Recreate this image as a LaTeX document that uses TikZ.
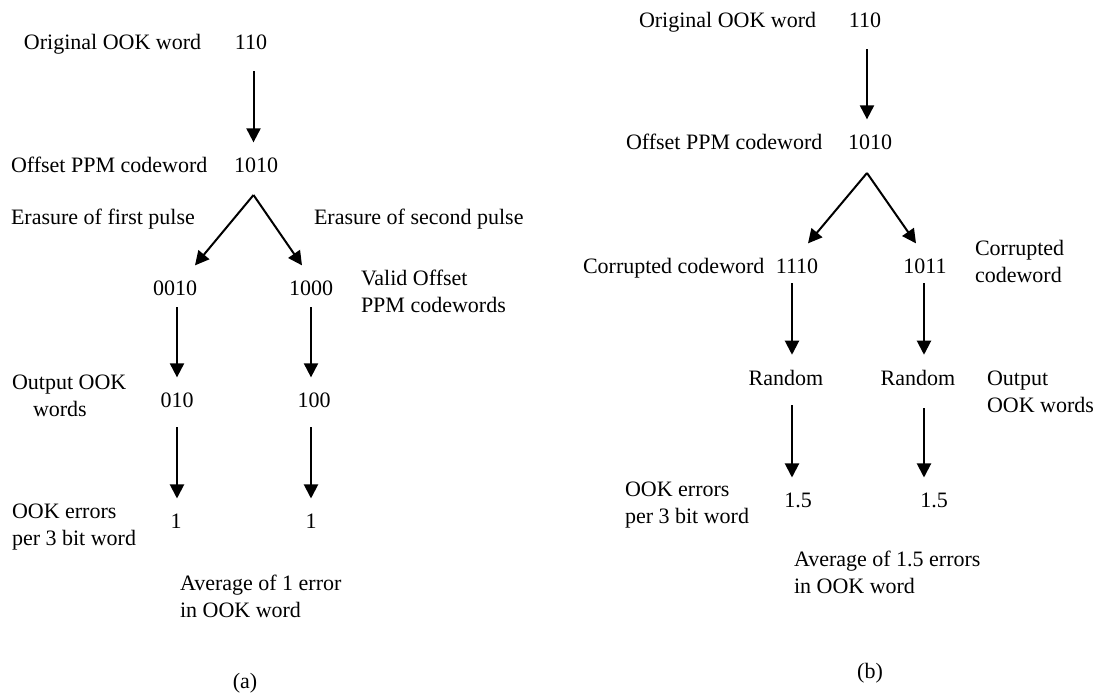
\documentclass[tikz,border=0pt]{standalone}
\usepackage{fontspec}
\setmainfont{Liberation Serif}
\usetikzlibrary{arrows.meta}
\begin{document}
\begin{tikzpicture}[x=0.5pt, y=-0.5pt,
  lbl/.style={inner sep=0pt, outer sep=0pt, font=\fontsize{11}{13.5}\selectfont},
  arr/.style={line width=1pt, -{Triangle[length=7pt,width=7pt]}}]
\useasboundingbox (0,0) rectangle (1104,697);

% ---------- (a) erasure of a pulse ----------
\coordinate (cA0) at (253.5,0);
\coordinate (cA1) at (177,0);
\coordinate (cA2) at (311,0);
\coordinate (splitA) at (253.5,195);

\node[lbl, anchor=base west] (origA) at (24,49) {Original OOK word};
\node[lbl, anchor=base] (a110) at (251,49) {110};
\node[lbl, anchor=base west] (offA) at (11,172) {Offset PPM codeword};
\node[lbl, anchor=base] (a1010) at (256,172) {1010};
\node[lbl, anchor=base west] (eraseA1) at (11,224) {Erasure of first pulse};
\node[lbl, anchor=base west] (eraseA2) at (314,224) {Erasure of second pulse};
\node[lbl, anchor=base] (a0010) at (175,295) {0010};
\node[lbl, anchor=base] (a1000) at (311,295) {1000};
\node[lbl, anchor=base west, align=left] (validA) at (361,312) {Valid Offset\\PPM codewords};
\node[lbl, anchor=base west, align=left] (outA) at (12,416) {Output OOK\\\hspace*{10.5pt}words};
\node[lbl, anchor=base] (a010) at (177,407) {010};
\node[lbl, anchor=base] (a100) at (314,407) {100};
\node[lbl, anchor=base west, align=left] (errA) at (12,545) {OOK errors\\per 3 bit word};
\node[lbl, anchor=base] (a1l) at (176,528) {1};
\node[lbl, anchor=base] (a1r) at (311,528) {1};
\node[lbl, anchor=base west, align=left] (avgA) at (180,617) {Average of 1 error\\in OOK word};
\node[lbl, anchor=base] (capA) at (245,688) {(a)};

\draw[arr, shorten <=11pt, shorten >=7.5pt] (a110.south -| cA0) -- (a1010.north -| cA0);
\draw[arr] (splitA) -- ([xshift=10pt,yshift=7.5pt]a0010.north);
\draw[arr] (splitA) -- ([xshift=-4.5pt,yshift=7.5pt]a1000.north);
\draw[arr, shorten <=6pt, shorten >=7.5pt] (a0010.south -| cA1) -- (a010.north -| cA1);
\draw[arr, shorten <=6pt, shorten >=7.5pt] (a1000.south -| cA2) -- (a100.north -| cA2);
\draw[arr, shorten <=10pt, shorten >=7.5pt] (a010.south -| cA1) -- (a1l.north -| cA1);
\draw[arr, shorten <=10pt, shorten >=7.5pt] (a100.south -| cA2) -- (a1r.north -| cA2);

% ---------- (b) corruption of the codeword ----------
\coordinate (cB0) at (867,0);
\coordinate (cB1) at (792,0);
\coordinate (cB2) at (924,0);
\coordinate (splitB) at (867,173);

\node[lbl, anchor=base west] (origB) at (639,27) {Original OOK word};
\node[lbl, anchor=base] (b110) at (865,27) {110};
\node[lbl, anchor=base west] (offB) at (626,149) {Offset PPM codeword};
\node[lbl, anchor=base] (b1010) at (870,149) {1010};
\node[lbl, anchor=base west] (corrB) at (583,273) {Corrupted codeword};
\node[lbl, anchor=base] (b1110) at (797,273) {1110};
\node[lbl, anchor=base] (b1011) at (925,273) {1011};
\node[lbl, anchor=base west, align=left] (corrB2) at (975,282) {Corrupted\\codeword};
\node[lbl, anchor=base] (rand1) at (786,385) {Random};
\node[lbl, anchor=base] (rand2) at (918,385) {Random};
\node[lbl, anchor=base west, align=left] (outB) at (987,412) {Output\\OOK words};
\node[lbl, anchor=base west, align=left] (errB) at (625,523) {OOK errors\\per 3 bit word};
\node[lbl, anchor=base] (b15l) at (798,507) {1.5};
\node[lbl, anchor=base] (b15r) at (934,507) {1.5};
\node[lbl, anchor=base west, align=left] (avgB) at (794,593) {Average of 1.5 errors\\in OOK word};
\node[lbl, anchor=base] (capB) at (870,678) {(b)};

\draw[arr, shorten <=11pt, shorten >=7.5pt] (b110.south -| cB0) -- (b1010.north -| cB0);
\draw[arr] (splitB) -- ([xshift=5.5pt,yshift=7.5pt]b1110.north);
\draw[arr] (splitB) -- ([xshift=-4.5pt,yshift=7.5pt]b1011.north);
\draw[arr, shorten <=5pt, shorten >=7.5pt] (b1110.south -| cB1) -- (rand1.north -| cB1);
\draw[arr, shorten <=5pt, shorten >=7.5pt] (b1011.south -| cB2) -- (rand2.north -| cB2);
\draw[arr, shorten <=10pt, shorten >=7.5pt] (rand1.south -| cB1) -- (b15l.north -| cB1);
\draw[arr, shorten <=11.5pt, shorten >=7.5pt] (rand2.south -| cB2) -- (b15r.north -| cB2);
\end{tikzpicture}
\end{document}
